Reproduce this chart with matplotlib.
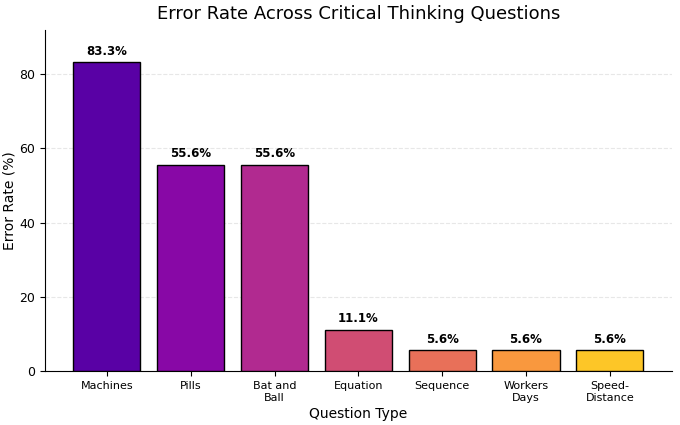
import matplotlib
matplotlib.use("Agg")
import matplotlib.pyplot as plt
import numpy as np

categories = ["Machines", "Pills", "Bat and\nBall", "Equation", "Sequence", "Workers\nDays", "Speed-\nDistance"]
error_rates = [83.3, 55.6, 55.6, 11.1, 5.6, 5.6, 5.6]

fig, ax = plt.subplots(figsize=(6.8, 4.25), dpi=100)
colors = plt.cm.plasma(np.linspace(0.16, 0.88, len(categories)))
x = np.arange(len(categories))
bars = ax.bar(x, error_rates, color=colors, edgecolor="black", linewidth=1.0, width=0.8, zorder=3)
for xi, v in zip(x, error_rates):
    ax.text(xi, v + 1.2, f"{v:.1f}%", ha="center", va="bottom", fontsize=8.5, fontweight="bold")

ax.set_xticks(x)
ax.set_xticklabels(categories, fontsize=8, linespacing=1.3)
ax.tick_params(axis="y", labelsize=9)
ax.set_ylim(0, 92)
ax.set_title("Error Rate Across Critical Thinking Questions", fontsize=13, pad=8)
ax.set_xlabel("Question Type", fontsize=10, labelpad=3)
ax.set_ylabel("Error Rate (%)", fontsize=10, labelpad=2)
ax.yaxis.grid(True, linestyle="--", alpha=0.3, zorder=0)
ax.spines["top"].set_visible(False)
ax.spines["right"].set_visible(False)
fig.subplots_adjust(left=0.066, right=0.988, top=0.93, bottom=0.127)
fig.savefig("out.png", dpi=100)
